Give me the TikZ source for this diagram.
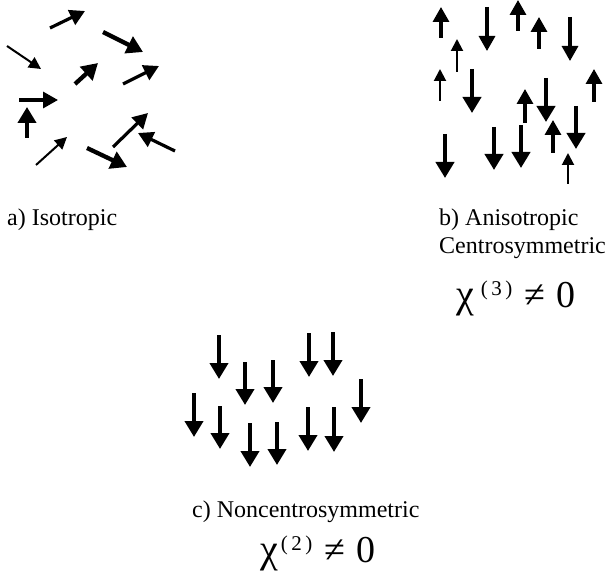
\documentclass[tikz,border=0pt]{standalone}
\usepackage{fontspec}
\setmainfont{Liberation Serif}
\usepackage{tikz}
\usetikzlibrary{arrows.meta}
\newcommand{\lbltext}{\fontsize{24}{27}\selectfont}
\newcommand{\chinum}[2]{{\fontsize{40}{44}\selectfont χ\kern#2\raisebox{0.3em}{\fontsize{21}{23}\selectfont (\,#1\,)}\kern12pt\fontsize{38}{42}\selectfont ≠\kern11pt 0}}

\begin{document}
\begin{tikzpicture}[x=1pt,y=-1pt,
  thinvec/.style={line width=2pt,-{Triangle[length=12pt,width=12pt]}},
  midvec/.style={line width=3.2pt,-{Triangle[length=15pt,width=16pt]}},
  boldvec/.style={line width=4.3pt,-{Triangle[length=16pt,width=18pt]}},
  lbl/.style={anchor=base west,inner sep=0pt,font=\lbltext}]
\useasboundingbox (0,0) rectangle (616,575);
% a) isotropic
\draw[midvec] (50,28)--(85,11);
\draw[boldvec] (103,32)--(143,52);
\draw[thinvec] (7,46)--(41,69);
\draw[boldvec] (75,84)--(98,63);
\draw[midvec] (123,84)--(159,66);
\draw[midvec] (19,100)--(58,100);
\draw[boldvec] (27,138)--(27,107);
\draw[thinvec] (36,165)--(67,137);
\draw[midvec] (113,147)--(148,113);
\draw[boldvec] (87,148)--(127,167);
\draw[midvec] (175,151)--(138,133);
\node[lbl] (lblA) at (7,225) {a) Isotropic};
% b) anisotropic, centrosymmetric
\foreach \x/\ya/\yb in {441/38/7, 518/31/0, 539/49/17, 594/102/69, 525/123/89, 553/153/120}
  \draw[midvec] (\x,\ya)--(\x,\yb);
\foreach \x/\ya/\yb in {457/72/39, 440/101/69, 568/184/153}
  \draw[thinvec] (\x,\ya)--(\x,\yb);
\foreach \x/\ya/\yb in {487/7/51, 570/17/61}
  \draw[midvec] (\x,\ya)--(\x,\yb);
\foreach \x/\ya/\yb in {472/69/113, 546/78/122, 576/106/149, 445/134/178, 494/127/170, 521/125/168}
  \draw[boldvec] (\x,\ya)--(\x,\yb);
\node[lbl] (lblB) at (439,225) {b) Anisotropic};
\node[lbl] (lblBb) at (439,253) {Centrosymmetric};
\node[lbl] (chiB) at (456,307) {\chinum{3}{7pt}};
% c) noncentrosymmetric
\foreach \x/\ya/\yb in {219/335/379, 309/333/377, 333/332/376, 245/362/405, 273/360/403,
    361/379/423, 194/393/437, 220/406/449, 250/423/467, 277/422/465, 308/407/451, 334/407/452}
  \draw[boldvec] (\x,\ya)--(\x,\yb);
\node[lbl] (lblC) at (192,517) {c) Noncentrosymmetric};
\node[lbl] (chiC) at (260,562) {\chinum{2}{3pt}};
\end{tikzpicture}
\end{document}
